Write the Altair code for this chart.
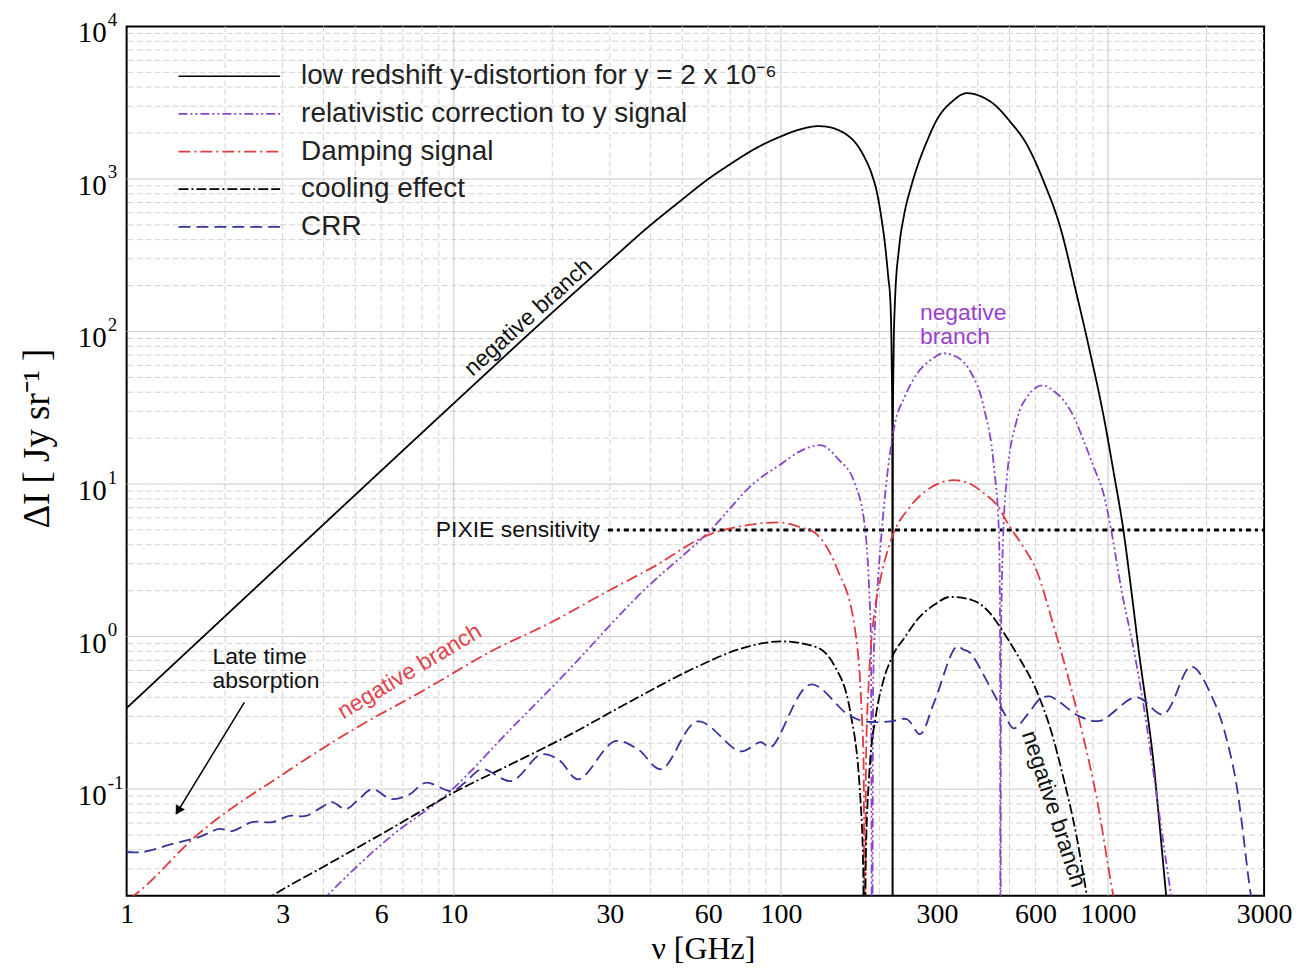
import altair as alt
import pandas as pd

# ---------------- data ----------------
series_names = [
    "low redshift y-distortion for y = 2 x 10⁻⁶",
    "relativistic correction to y signal",
    "Damping signal",
    "cooling effect",
    "CRR",
]
series_colors = ["#000000", "#8a44c8", "#de3a3f", "#000000", "#34349c"]
series_dash = [[1, 0], [9, 3, 2, 3, 2, 3], [12, 4, 2, 4], [10, 3, 2, 3, 10, 3], [12, 6]]

ydist_nu = [1, 2, 3, 5, 10, 20, 30, 40, 50, 60, 70, 80, 90, 100, 110, 120, 130, 140, 150, 160,
            170, 180, 190, 197, 203, 208, 213, 216, 218, 219, 219.5, 220, 221, 223, 230, 238, 250,
            261, 280, 300, 335, 370, 410, 448, 500, 564, 640, 711, 801, 880, 968, 1040, 1114, 1180,
            1247, 1310, 1374, 1440, 1506, 1560]
ydist_val = [0.34, 1.36, 3.06, 8.5, 33.8, 133, 290, 500, 735, 1000, 1250, 1500, 1720, 1900, 2060,
             2170, 2220, 2190, 2090, 1930, 1700, 1390, 1060, 800, 550, 376, 225, 160, 69, 23, 0.003,
             23, 69, 150, 360, 580, 890, 1200, 1780, 2450, 3240, 3650, 3470, 3090, 2400, 1690, 930,
             500, 177, 74, 28.3, 12, 5.0, 1.95, 0.75, 0.35, 0.157, 0.056, 0.02, 0.0095]

rel_nu = [3.5, 4.1, 6.5, 9.5, 15, 21, 38, 61, 83, 100, 115, 132, 150, 168, 181, 186, 188.5, 190,
          191.5, 194, 197, 207, 222, 240, 261, 290, 315, 345, 378, 417, 448, 464, 467.5, 469, 471,
          478, 490, 526, 570, 630, 690, 731, 790, 841, 910, 968, 1024, 1100, 1195, 1300, 1420, 1560, 1620]
rel_val = [0.014, 0.02, 0.05, 0.092, 0.25, 0.52, 2.0, 5.0, 10.2, 13.5, 16.5, 18.0, 14.5, 10.2, 5.0,
           2.1, 0.9, 0.003, 0.5, 1.2, 2.0, 7.5, 23.6, 38, 53, 66, 72, 68, 55.6, 31.9, 12.9, 4.8, 1.3,
           0.003, 1.0, 4.5, 10.6, 26.2, 38, 44.4, 40, 35.4, 27, 19.4, 12.5, 8.7, 4.9, 2.0, 0.85, 0.3,
           0.08, 0.02, 0.012]

damp_nu = [0.9, 1.07, 1.63, 3.07, 5, 8.2, 13, 20, 29, 40, 61, 80, 98, 115, 127, 149, 168, 177, 179,
           180.5, 182, 186, 192, 200, 217, 248, 290, 338, 380, 417, 457, 501, 550, 605, 680, 763,
           840, 922, 1038, 1080]
damp_val = [0.016, 0.0206, 0.0493, 0.129, 0.25, 0.451, 0.80, 1.25, 1.94, 2.8, 4.7, 5.4, 5.6, 5.2,
            4.79, 2.74, 1.16, 0.287, 0.15, 0.003, 0.15, 0.55, 1.3, 2.2, 4.3, 7.08, 9.6, 10.6, 10.0,
            8.7, 7.3, 5.24, 3.9, 2.7, 1.2, 0.5, 0.22, 0.0887, 0.02, 0.013]

cool_nu = [2.4, 2.79, 4, 6.8, 10, 15, 22, 35, 56, 75, 100, 127, 146, 163, 175, 178.5, 180, 181.5,
           186, 195, 205, 217, 240, 261, 295, 329, 380, 435, 480, 530, 605, 670, 731, 800, 862, 900]
cool_val = [0.016, 0.02, 0.031, 0.059, 0.095, 0.146, 0.22, 0.38, 0.64, 0.83, 0.93, 0.86, 0.64, 0.32,
            0.086, 0.03, 0.002, 0.03, 0.12, 0.3, 0.5, 0.71, 1.0, 1.29, 1.62, 1.82, 1.75, 1.43, 1.06,
            0.75, 0.44, 0.24, 0.118, 0.05, 0.02, 0.012]

crr_nu = [1.0, 1.12, 1.38, 1.67, 1.92, 2.10, 2.42, 2.79, 3.14, 3.53, 3.95, 4.24, 4.67, 5.13, 5.63,
          6.46, 7.3, 8.2, 9.85, 10.8, 12.2, 15.0, 18.5, 21, 24, 31.1, 36.6, 43, 55.6, 75.3, 86.7,
          93, 123, 160, 180, 216, 243, 266, 294, 345, 362, 378, 435, 480, 515, 574, 618, 663, 818,
          942, 1222, 1475, 1795, 2095, 2411, 2735, 2900]
crr_val = [0.0387, 0.0387, 0.0437, 0.0486, 0.0548, 0.0531, 0.0608, 0.0608, 0.0667, 0.0667, 0.0762,
           0.0822, 0.074, 0.086, 0.10, 0.086, 0.092, 0.11, 0.097, 0.11, 0.135, 0.113, 0.169, 0.155,
           0.116, 0.206, 0.182, 0.135, 0.278, 0.177, 0.203, 0.188, 0.485, 0.309, 0.278, 0.278, 0.287,
           0.229, 0.37, 0.86, 0.82, 0.786, 0.471, 0.319, 0.25, 0.319, 0.388, 0.405, 0.30, 0.28, 0.40,
           0.309, 0.637, 0.388, 0.141, 0.02, 0.01]

pixie_nu = [29.6, 3000]
pixie_val = [5, 5]

arrow_nu = [2.29, 1.436]
arrow_val = [0.37, 0.0721]

x_tick_values = [1, 3, 6, 10, 30, 60, 100, 300, 600, 1000, 3000]
ylab_values = [0.1, 1, 10, 100, 1000, 10000]
ylab_exps = ["-1", "0", "1", "2", "3", "4"]

x_grid_minor = [2, 3, 4, 5, 6, 7, 8, 9, 20, 30, 40, 50, 60, 70, 80, 90,
                200, 300, 400, 500, 600, 700, 800, 900, 2000]
x_grid_major = [10, 100, 1000]
y_grid_minor = [0.03, 0.04, 0.05, 0.06, 0.07, 0.08, 0.09,
                0.2, 0.3, 0.4, 0.5, 0.6, 0.7, 0.8, 0.9,
                2, 3, 4, 5, 6, 7, 8, 9,
                20, 30, 40, 50, 60, 70, 80, 90,
                200, 300, 400, 500, 600, 700, 800, 900,
                2000, 3000, 4000, 5000, 6000, 7000, 8000, 9000]
y_grid_major = [0.1, 1, 10, 100, 1000]

# ---------------- tables ----------------
rows = []
for name, nus, vals in zip(series_names,
                           [ydist_nu, rel_nu, damp_nu, cool_nu, crr_nu],
                           [ydist_val, rel_val, damp_val, cool_val, crr_val]):
    for i, (n, v) in enumerate(zip(nus, vals)):
        rows.append({"series": name, "nu": n, "dI": v, "order": i})
curves = pd.DataFrame(rows)

xscale = alt.Scale(type="log", domain=[1, 3000], nice=False)
yscale = alt.Scale(type="log", domain=[0.02, 10000], nice=False)

xaxis = alt.Axis(values=x_tick_values, format="d", labelFont="Liberation Serif",
                 labelFontSize=28, labelColor="black", labelPadding=5, ticks=False,
                 domain=False, grid=False, labelOverlap=False, labelFlush=False,
                 title="ν  [GHz]", titleFont="Liberation Serif", titleFontSize=32,
                 titleFontWeight="normal", titleColor="black", titleX=578, titleY=53,
                 titleBaseline="middle", titleAlign="center")
yaxis = alt.Axis(labels=False, ticks=False, domain=False, grid=False,
                 title="ΔI  [ Jy sr⁻¹ ]", titleFont="Liberation Serif", titleFontSize=37,
                 titleFontWeight="normal", titleColor="black", titleAngle=270,
                 titleX=-89, titleY=413, titleAlign="center", titleBaseline="middle")


def X(field):
    return alt.X(field, scale=xscale, axis=xaxis)


def Y(field):
    return alt.Y(field, scale=yscale, axis=yaxis)


def vgrid(vals, dash, color):
    return alt.Chart(pd.DataFrame({"v": vals})).mark_rule(
        color=color, strokeWidth=1, strokeDash=dash).encode(x=X("v:Q"))


def hgrid(vals, dash, color):
    return alt.Chart(pd.DataFrame({"v": vals})).mark_rule(
        color=color, strokeWidth=1, strokeDash=dash).encode(y=Y("v:Q"))


grids = [
    vgrid(x_grid_minor, [6, 3], "#d2d2d2"),
    hgrid(y_grid_minor, [6, 3], "#d2d2d2"),
    vgrid(x_grid_major, [1, 0], "#c4c4c4"),
    hgrid(y_grid_major, [1, 0], "#c4c4c4"),
]

leg = alt.Legend(
    title=None, orient="none", legendX=51, legendY=37, symbolType="stroke",
    symbolSize=10400, symbolStrokeWidth=1.7, labelFont="Liberation Sans",
    labelFontSize=28, labelColor="#222222", labelOffset=20, labelLimit=900,
    rowPadding=9.75, clipHeight=26, padding=0,
)
color_enc = alt.Color("series:N", scale=alt.Scale(domain=series_names, range=series_colors), legend=leg)
dash_enc = alt.StrokeDash("series:N", scale=alt.Scale(domain=series_names, range=series_dash), legend=leg)

pixie = alt.Chart(pd.DataFrame({"nu": pixie_nu, "dI": pixie_val})).mark_line(
    color="black", strokeWidth=3, strokeDash=[5, 4, 3, 4]).encode(x=X("nu:Q"), y=Y("dI:Q"))

main_lines = alt.Chart(curves).transform_filter(
    alt.datum.series != "CRR"
).mark_line(strokeWidth=1.8, clip=True, interpolate="monotone").encode(
    x=X("nu:Q"), y=Y("dI:Q"), color=color_enc, strokeDash=dash_enc, order="order:Q")

crr_line = alt.Chart(curves).transform_filter(
    alt.datum.series == "CRR"
).mark_line(strokeWidth=1.8, clip=True, interpolate="catmull-rom").encode(
    x=X("nu:Q"), y=Y("dI:Q"), color=color_enc, strokeDash=dash_enc, order="order:Q")

ylab_df = pd.DataFrame({"v": ylab_values, "exp": ylab_exps})
ylab_base = alt.Chart(ylab_df).mark_text(
    align="right", baseline="middle", dy=7, font="Liberation Serif", fontSize=29, color="black").encode(
    x=alt.value(-20), y=Y("v:Q"), text=alt.value("10"))
ylab_exp = alt.Chart(ylab_df).mark_text(
    align="left", baseline="middle", dy=-6.5, font="Liberation Serif", fontSize=19, color="black").encode(
    x=alt.value(-19), y=Y("v:Q"), text="exp:N")


def txt(nus, vals, labels, color, size=23, angle=None, align="center"):
    kw = dict(color=color, fontSize=size, align=align, baseline="middle", font="Liberation Sans")
    if angle is not None:
        kw["angle"] = angle
    return alt.Chart(pd.DataFrame({"nu": nus, "dI": vals, "label": labels})).mark_text(**kw).encode(
        x=X("nu:Q"), y=Y("dI:Q"), text="label:N")


annots = [
    txt([16.9], [124], ["negative branch"], "#111111", angle=318),
    txt([7.33], [0.59], ["negative branch"], "#e0454f", angle=329),
    txt([682], [0.074], ["negative branch"], "#111111", angle=72),
    txt([266, 266], [133, 92.7], ["negative", "branch"], "#9b3fd0", align="left"),
    txt([28.0], [5.0], ["PIXIE sensitivity"], "#111111", align="right"),
    txt([1.83, 1.83], [0.74, 0.515], ["Late time", "absorption"], "#111111", align="left"),
]

arrow_df = pd.DataFrame({"nu": arrow_nu, "dI": arrow_val})
arrow_line = alt.Chart(arrow_df).mark_line(color="black", strokeWidth=1.5).encode(
    x=X("nu:Q"), y=Y("dI:Q"))
arrow_head = alt.Chart(arrow_df.iloc[[1]]).mark_point(
    shape="triangle-up", angle=211, size=110, filled=True, color="black", opacity=1).encode(
    x=X("nu:Q"), y=Y("dI:Q"))

chart = alt.layer(
    *grids, pixie, main_lines, crr_line, ylab_base, ylab_exp, *annots, arrow_line, arrow_head
).properties(
    width=1141, height=872,
    padding={"left": 119, "top": 17, "right": 35, "bottom": 69},
    autosize=alt.AutoSizeParams(type="none"),
    background="white",
).configure_view(stroke="black", strokeWidth=2)

chart.save("out.html", embed_options={"renderer": "svg", "actions": False})
